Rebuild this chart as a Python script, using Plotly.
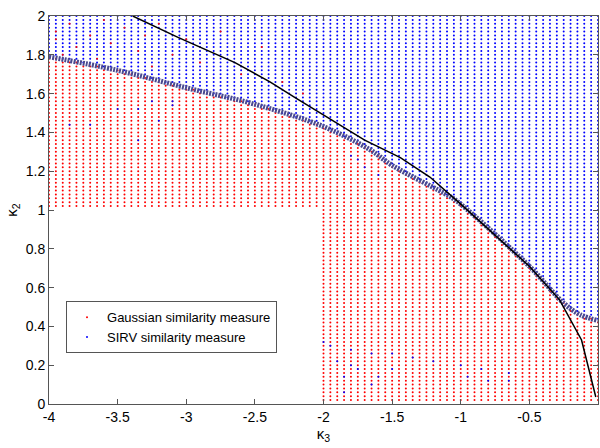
import numpy as np
import plotly.graph_objects as go

# ---- data ----
# sampling grid of (kappa3, kappa2)
k3_grid = np.round(np.arange(-4.0, 0.0001, 0.05), 3)
k2_grid = np.round(np.arange(0.02, 2.0001, 0.02), 3)

# decision boundary between the two measures (dense dotted curve)
k3_bound = [-4.0, -3.5, -3.0, -2.5, -2.0, -1.66, -1.5, -1.08, -1.0, -0.5, -0.25, -0.13, 0.0]
k2_bound = [1.79, 1.72, 1.63, 1.545, 1.43, 1.31, 1.23, 1.07, 1.03, 0.71, 0.52, 0.46, 0.43]

# empty corner of the sampled region
k3_cut = -2.0
k2_cut = 1.02

# black theoretical curve
k3_line = [-3.39, -3.06, -2.645, -2.39, -2.21, -1.70, -1.44, -1.225, -1.0, -0.5, -0.28, -0.12, -0.016]
k2_line = [2.0, 1.89, 1.76, 1.66, 1.58, 1.36, 1.27, 1.17, 1.03, 0.71, 0.537, 0.33, 0.036]

# isolated points of the other colour
red_out_k3 = [-3.95, -3.95, -3.85, -3.8, -3.7, -3.6, -3.55, -3.45, -3.35, -3.3, -3.2,
              -3.1, -3.0, -2.9, -2.75, -2.6, -2.45, -2.3, -2.15, -3.9, -3.65, -3.25]
red_out_k2 = [1.92, 1.88, 1.96, 1.84, 1.9, 1.98, 1.86, 1.94, 1.82, 1.9, 1.96,
              1.8, 1.88, 1.76, 1.92, 1.7, 1.84, 1.66, 1.6, 1.8, 1.78, 1.74]
blue_out_k3 = [-3.85, -3.7, -3.5, -3.35, -3.35, -3.2, -3.25, -3.1, -3.1,
               -2.0, -1.95, -1.9, -1.85, -1.85, -1.8, -1.8, -1.75, -1.65, -1.65, -1.6,
               -1.5, -1.5, -1.35, -1.2, -1.0, -0.95, -0.85, -0.8, -0.65, -0.65,
               -1.8, -1.75, -1.7, -1.6]
blue_out_k2 = [1.44, 1.44, 1.52, 1.52, 1.36, 1.46, 1.56, 1.56, 1.54,
               0.32, 0.3, 0.22, 0.14, 0.06, 0.28, 0.2, 0.18, 0.26, 0.1, 0.14,
               0.26, 0.18, 0.24, 0.22, 0.2, 0.14, 0.18, 0.12, 0.16, 0.12,
               1.28, 1.26, 1.22, 1.18]

x_ticks = [-4, -3.5, -3, -2.5, -2, -1.5, -1, -0.5, 0]
x_tick_text = ["-4", "-3.5", "-3", "-2.5", "-2", "-1.5", "-1", "-0.5", "0"]
y_ticks = [0, 0.2, 0.4, 0.6, 0.8, 1, 1.2, 1.4, 1.6, 1.8, 2]
y_tick_text = ["0", "0.2", "0.4", "0.6", "0.8", "1", "1.2", "1.4", "1.6", "1.8", "2"]

# ---- classify grid points ----
X, Y = np.meshgrid(k3_grid, k2_grid)
X = X.ravel()
Y = Y.ravel()
b = np.interp(X, k3_bound, k2_bound)
in_cut = (X < k3_cut - 1e-9) & (Y < k2_cut)
red_mask = (Y <= b) & ~in_cut
blue_mask = Y > b

RED = "#ff0000"
BLUE = "#0000ff"
FONT = "Liberation Sans, Arial, sans-serif"
DOT = 2.0

fig = go.Figure()
fig.add_trace(go.Scatter(x=X[red_mask], y=Y[red_mask], mode="markers",
                         marker=dict(color=RED, size=DOT, line=dict(width=0)),
                         name="Gaussian similarity measure"))
fig.add_trace(go.Scatter(x=X[blue_mask], y=Y[blue_mask], mode="markers",
                         marker=dict(color=BLUE, size=DOT, line=dict(width=0)),
                         name="SIRV similarity measure"))
fig.add_trace(go.Scatter(x=red_out_k3, y=red_out_k2, mode="markers",
                         marker=dict(color=RED, size=DOT, line=dict(width=0)),
                         showlegend=False))
fig.add_trace(go.Scatter(x=blue_out_k3, y=blue_out_k2, mode="markers",
                         marker=dict(color=BLUE, size=DOT, line=dict(width=0)),
                         showlegend=False))
# dense boundary (overlapping red/blue samples)
fig.add_trace(go.Scatter(x=k3_bound, y=k2_bound, mode="lines",
                         line=dict(color="#4a4a90", width=5, dash="2px,1.1px", shape="spline"),
                         showlegend=False, hoverinfo="skip"))
fig.add_trace(go.Scatter(x=k3_line, y=k2_line, mode="lines",
                         line=dict(color="black", width=1.5),
                         showlegend=False))

axis_common = dict(showline=True, linecolor="#555555", linewidth=1, mirror="ticks",
                   ticks="inside", ticklen=5, tickcolor="#555555", showgrid=False,
                   zeroline=False, tickfont=dict(family=FONT, size=14, color="black"))

fig.update_layout(
    width=600, height=448,
    margin=dict(l=49, r=2, t=16, b=44),
    paper_bgcolor="white", plot_bgcolor="white",
    xaxis=dict(range=[-4, 0], tickvals=x_ticks, ticktext=x_tick_text,
               title=dict(text="κ<sub>3</sub>", font=dict(family=FONT, size=15, color="black"),
                          standoff=1),
               **axis_common),
    yaxis=dict(range=[0, 2], tickvals=y_ticks, ticktext=y_tick_text,
               title=dict(text="κ<sub>2</sub>", font=dict(family=FONT, size=15, color="black"),
                          standoff=4),
               **axis_common),
    legend=dict(x=0.031, y=0.265, xanchor="left", yanchor="top",
                bgcolor="white", bordercolor="#555555", borderwidth=1,
                font=dict(family=FONT, size=13, color="black"),
                itemwidth=30, tracegroupgap=0),
    showlegend=True,
)

fig.write_html("out.html")
